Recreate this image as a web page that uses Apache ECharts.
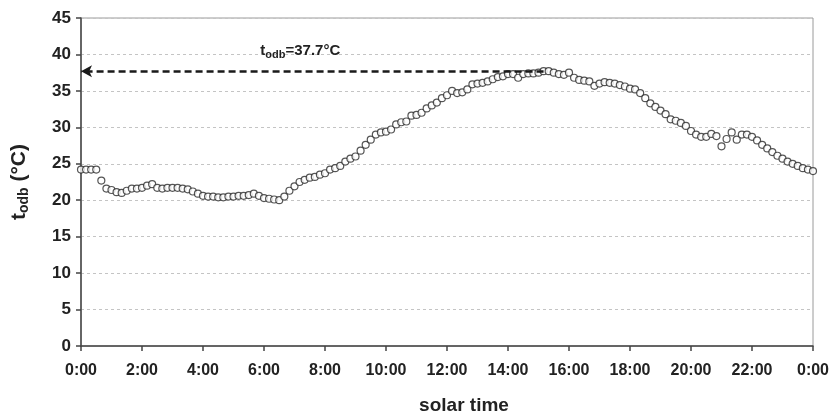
<!DOCTYPE html>
<html>
<head>
<meta charset="utf-8">
<script src="https://cdn.jsdelivr.net/npm/echarts@6/dist/echarts.min.js"></script>
<style>
  html, body { margin: 0; padding: 0; background: #fff; }
  #chart { width: 835px; height: 414px; }
</style>
</head>
<body>
<div id="chart"></div>
<script>
// outdoor dry-bulb temperature, one reading every 10 min from 0:00 to 24:00
var stepMinutes = 10
var temps = [
  24.2, 24.2, 24.2, 24.2, 22.7, 21.6, 21.4, 21.1, 21.0, 21.3, 21.6, 21.6,
  21.7, 22.0, 22.2, 21.7, 21.6, 21.7, 21.7, 21.7, 21.6, 21.5, 21.2, 20.9,
  20.6, 20.5, 20.5, 20.4, 20.4, 20.5, 20.5, 20.6, 20.6, 20.7, 20.9, 20.6,
  20.3, 20.2, 20.1, 20.0, 20.5, 21.3, 21.9, 22.5, 22.8, 23.1, 23.2, 23.5,
  23.7, 24.2, 24.4, 24.7, 25.3, 25.7, 26.0, 26.8, 27.6, 28.3, 29.0, 29.3,
  29.4, 29.7, 30.4, 30.7, 30.8, 31.6, 31.7, 32.0, 32.6, 33.0, 33.4, 34.0,
  34.4, 35.0, 34.7, 34.8, 35.2, 35.9, 36.0, 36.1, 36.3, 36.6, 36.9, 37.0,
  37.3, 37.3, 36.8, 37.3, 37.4, 37.4, 37.5, 37.7, 37.7, 37.5, 37.3, 37.2,
  37.5, 36.8, 36.5, 36.4, 36.3, 35.7, 36.0, 36.2, 36.1, 36.0, 35.8, 35.6,
  35.3, 35.2, 34.7, 34.0, 33.3, 32.8, 32.3, 31.8, 31.1, 30.9, 30.6, 30.2,
  29.5, 29.0, 28.7, 28.7, 29.1, 28.8, 27.4, 28.4, 29.3, 28.3, 29.0, 29.0,
  28.7, 28.2, 27.6, 27.1, 26.6, 26.1, 25.7, 25.3, 25.0, 24.7, 24.4, 24.2,
  24.0
]
var peakTemp = 37.7
var peakMinute = 910 // where the dashed arrow starts
var xTicks = [0, 120, 240, 360, 480, 600, 720, 840, 960, 1080, 1200, 1320, 1440]
var yTicks = [0, 5, 10, 15, 20, 25, 30, 35, 40, 45]

var points = temps.map(function (v, i) {
  return [i * stepMinutes, v]
})

var textColor = '#222'
var chart = echarts.init(document.getElementById('chart'))

chart.setOption({
  animation: false,
  grid: {
    left: 81,
    right: 22,
    top: 18,
    bottom: 68,
    outerBoundsMode: 'none',
    show: true,
    borderColor: '#9a9a9a',
    borderWidth: 1
  },
  xAxis: {
    type: 'value',
    min: xTicks[0],
    max: xTicks[xTicks.length - 1],
    interval: 120,
    name: 'solar time',
    nameLocation: 'middle',
    nameGap: 50,
    nameTextStyle: {
      color: textColor,
      fontFamily: 'Liberation Sans',
      fontWeight: 'bold',
      fontSize: 19,
      padding: [0, 0, 0, 34]
    },
    axisLine: { lineStyle: { color: '#444', width: 1.5 } },
    axisTick: { show: true, inside: false, length: 5, lineStyle: { color: '#444', width: 1.5 } },
    axisLabel: {
      margin: 17,
      color: textColor,
      fontFamily: 'Liberation Sans',
      fontWeight: 'bold',
      fontSize: 16,
      formatter: function (v) {
        return ((v / 60) % 24) + ':00'
      }
    },
    splitLine: { show: false }
  },
  yAxis: {
    type: 'value',
    min: yTicks[0],
    max: yTicks[yTicks.length - 1],
    interval: 5,
    name: '{t|t}{s|odb}{t| (°C)}',
    nameLocation: 'middle',
    nameGap: 50,
    nameTextStyle: {
      color: textColor,
      rich: {
        t: { fontFamily: 'Liberation Sans', fontWeight: 'bold', fontSize: 21, color: textColor },
        s: { fontFamily: 'Liberation Sans', fontWeight: 'bold', fontSize: 14, color: textColor, padding: [9, 0, 0, 0] }
      }
    },
    axisLine: { show: true, lineStyle: { color: '#444', width: 1.5 } },
    axisTick: { show: true, inside: false, length: 5, lineStyle: { color: '#444', width: 1.5 } },
    axisLabel: {
      margin: 10,
      color: textColor,
      fontFamily: 'Liberation Sans',
      fontWeight: 'bold',
      fontSize: 17
    },
    splitLine: {
      show: true,
      lineStyle: { color: '#c4c4c4', width: 1, type: [3, 3] }
    }
  },
  series: [
    {
      name: 'todb',
      type: 'scatter',
      data: points,
      clip: false,
      symbol: 'circle',
      symbolSize: 7,
      itemStyle: {
        color: '#fff',
        borderColor: '#2a2a2a',
        borderWidth: 1.2
      },
      markLine: {
        silent: true,
        animation: false,
        lineStyle: { color: '#1a1a1a', width: 2.5, type: [7, 4] },
        label: {
          show: true,
          position: 'middle',
          distance: 11,
          offset: [-12, 0],
          formatter: '{t|t}{s|odb}{t|=37.7°C}',
          rich: {
            t: { fontFamily: 'Liberation Sans', fontWeight: 'bold', fontSize: 15, color: textColor },
            s: { fontFamily: 'Liberation Sans', fontWeight: 'bold', fontSize: 11, color: textColor, padding: [7, 0, 0, 0] }
          }
        },
        data: [
          [
            { coord: [peakMinute, peakTemp], symbol: 'none' },
            { coord: [0, peakTemp], symbol: 'arrow', symbolSize: [9, 11] }
          ]
        ]
      }
    }
  ]
})
</script>
</body>
</html>
